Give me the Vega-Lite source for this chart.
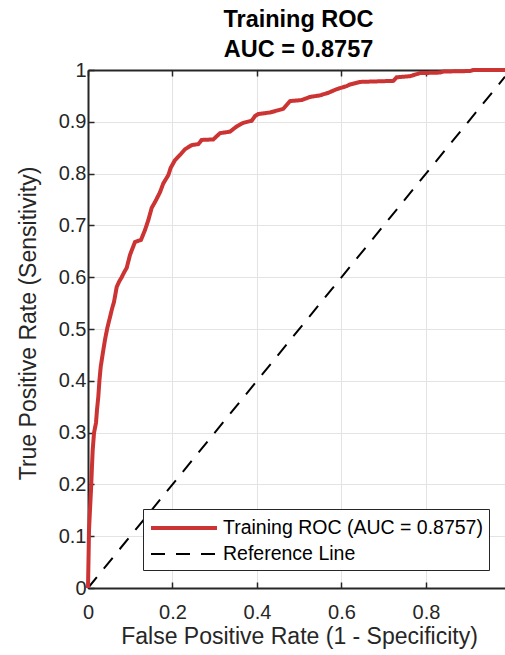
{
  "$schema": "https://vega.github.io/schema/vega-lite/v6.json",
  "autosize": {"type": "none"},
  "padding": {"left": 88, "top": 70, "right": 0, "bottom": 67},
  "width": 417,
  "height": 518,
  "background": "white",
  "title": {
    "text": ["Training ROC", "AUC = 0.8757"],
    "font": "Liberation Sans",
    "fontSize": 23.5,
    "fontWeight": "bold",
    "color": "black",
    "lineHeight": 30,
    "baseline": "alphabetic",
    "offset": -20,
    "dx": 2,
    "anchor": "middle",
    "frame": "group"
  },
  "datasets": {
    "roc": [
      {"series": "Reference Line", "fpr": 0, "tpr": 0},
      {"series": "Reference Line", "fpr": 0.987, "tpr": 0.987},
      {"series": "Training ROC (AUC = 0.8757)", "fpr": 0, "tpr": 0},
      {"series": "Training ROC (AUC = 0.8757)", "fpr": 0.0012, "tpr": 0.054},
      {"series": "Training ROC (AUC = 0.8757)", "fpr": 0.0024, "tpr": 0.112},
      {"series": "Training ROC (AUC = 0.8757)", "fpr": 0.0047, "tpr": 0.151},
      {"series": "Training ROC (AUC = 0.8757)", "fpr": 0.0071, "tpr": 0.189},
      {"series": "Training ROC (AUC = 0.8757)", "fpr": 0.0095, "tpr": 0.237},
      {"series": "Training ROC (AUC = 0.8757)", "fpr": 0.0111, "tpr": 0.266},
      {"series": "Training ROC (AUC = 0.8757)", "fpr": 0.0142, "tpr": 0.299},
      {"series": "Training ROC (AUC = 0.8757)", "fpr": 0.0189, "tpr": 0.319},
      {"series": "Training ROC (AUC = 0.8757)", "fpr": 0.0213, "tpr": 0.344},
      {"series": "Training ROC (AUC = 0.8757)", "fpr": 0.0244, "tpr": 0.369},
      {"series": "Training ROC (AUC = 0.8757)", "fpr": 0.0272, "tpr": 0.402},
      {"series": "Training ROC (AUC = 0.8757)", "fpr": 0.0301, "tpr": 0.427},
      {"series": "Training ROC (AUC = 0.8757)", "fpr": 0.0348, "tpr": 0.452},
      {"series": "Training ROC (AUC = 0.8757)", "fpr": 0.0402, "tpr": 0.479},
      {"series": "Training ROC (AUC = 0.8757)", "fpr": 0.0457, "tpr": 0.502},
      {"series": "Training ROC (AUC = 0.8757)", "fpr": 0.0521, "tpr": 0.523},
      {"series": "Training ROC (AUC = 0.8757)", "fpr": 0.0575, "tpr": 0.541},
      {"series": "Training ROC (AUC = 0.8757)", "fpr": 0.0615, "tpr": 0.552},
      {"series": "Training ROC (AUC = 0.8757)", "fpr": 0.0679, "tpr": 0.581},
      {"series": "Training ROC (AUC = 0.8757)", "fpr": 0.0734, "tpr": 0.591},
      {"series": "Training ROC (AUC = 0.8757)", "fpr": 0.0798, "tpr": 0.600},
      {"series": "Training ROC (AUC = 0.8757)", "fpr": 0.0859, "tpr": 0.610},
      {"series": "Training ROC (AUC = 0.8757)", "fpr": 0.0916, "tpr": 0.618},
      {"series": "Training ROC (AUC = 0.8757)", "fpr": 0.0994, "tpr": 0.643},
      {"series": "Training ROC (AUC = 0.8757)", "fpr": 0.1112, "tpr": 0.668},
      {"series": "Training ROC (AUC = 0.8757)", "fpr": 0.1254, "tpr": 0.672},
      {"series": "Training ROC (AUC = 0.8757)", "fpr": 0.1349, "tpr": 0.691},
      {"series": "Training ROC (AUC = 0.8757)", "fpr": 0.1427, "tpr": 0.710},
      {"series": "Training ROC (AUC = 0.8757)", "fpr": 0.1508, "tpr": 0.734},
      {"series": "Training ROC (AUC = 0.8757)", "fpr": 0.1586, "tpr": 0.745},
      {"series": "Training ROC (AUC = 0.8757)", "fpr": 0.1704, "tpr": 0.764},
      {"series": "Training ROC (AUC = 0.8757)", "fpr": 0.1782, "tpr": 0.781},
      {"series": "Training ROC (AUC = 0.8757)", "fpr": 0.1901, "tpr": 0.797},
      {"series": "Training ROC (AUC = 0.8757)", "fpr": 0.1957, "tpr": 0.811},
      {"series": "Training ROC (AUC = 0.8757)", "fpr": 0.2059, "tpr": 0.826},
      {"series": "Training ROC (AUC = 0.8757)", "fpr": 0.2178, "tpr": 0.836},
      {"series": "Training ROC (AUC = 0.8757)", "fpr": 0.2296, "tpr": 0.847},
      {"series": "Training ROC (AUC = 0.8757)", "fpr": 0.2454, "tpr": 0.855},
      {"series": "Training ROC (AUC = 0.8757)", "fpr": 0.2611, "tpr": 0.857},
      {"series": "Training ROC (AUC = 0.8757)", "fpr": 0.2691, "tpr": 0.865},
      {"series": "Training ROC (AUC = 0.8757)", "fpr": 0.2966, "tpr": 0.866},
      {"series": "Training ROC (AUC = 0.8757)", "fpr": 0.3124, "tpr": 0.878},
      {"series": "Training ROC (AUC = 0.8757)", "fpr": 0.3361, "tpr": 0.881},
      {"series": "Training ROC (AUC = 0.8757)", "fpr": 0.3519, "tpr": 0.891},
      {"series": "Training ROC (AUC = 0.8757)", "fpr": 0.3676, "tpr": 0.898},
      {"series": "Training ROC (AUC = 0.8757)", "fpr": 0.3874, "tpr": 0.902},
      {"series": "Training ROC (AUC = 0.8757)", "fpr": 0.3953, "tpr": 0.911},
      {"series": "Training ROC (AUC = 0.8757)", "fpr": 0.4031, "tpr": 0.915},
      {"series": "Training ROC (AUC = 0.8757)", "fpr": 0.4308, "tpr": 0.918},
      {"series": "Training ROC (AUC = 0.8757)", "fpr": 0.4622, "tpr": 0.925},
      {"series": "Training ROC (AUC = 0.8757)", "fpr": 0.4781, "tpr": 0.940},
      {"series": "Training ROC (AUC = 0.8757)", "fpr": 0.5058, "tpr": 0.942},
      {"series": "Training ROC (AUC = 0.8757)", "fpr": 0.5254, "tpr": 0.948},
      {"series": "Training ROC (AUC = 0.8757)", "fpr": 0.5491, "tpr": 0.951},
      {"series": "Training ROC (AUC = 0.8757)", "fpr": 0.5688, "tpr": 0.956},
      {"series": "Training ROC (AUC = 0.8757)", "fpr": 0.5886, "tpr": 0.963},
      {"series": "Training ROC (AUC = 0.8757)", "fpr": 0.6123, "tpr": 0.969},
      {"series": "Training ROC (AUC = 0.8757)", "fpr": 0.6201, "tpr": 0.972},
      {"series": "Training ROC (AUC = 0.8757)", "fpr": 0.6438, "tpr": 0.977},
      {"series": "Training ROC (AUC = 0.8757)", "fpr": 0.7226, "tpr": 0.979},
      {"series": "Training ROC (AUC = 0.8757)", "fpr": 0.7306, "tpr": 0.986},
      {"series": "Training ROC (AUC = 0.8757)", "fpr": 0.7621, "tpr": 0.988},
      {"series": "Training ROC (AUC = 0.8757)", "fpr": 0.7858, "tpr": 0.994},
      {"series": "Training ROC (AUC = 0.8757)", "fpr": 0.8331, "tpr": 0.995},
      {"series": "Training ROC (AUC = 0.8757)", "fpr": 0.8410, "tpr": 0.997},
      {"series": "Training ROC (AUC = 0.8757)", "fpr": 0.9041, "tpr": 0.998},
      {"series": "Training ROC (AUC = 0.8757)", "fpr": 0.9120, "tpr": 1.0},
      {"series": "Training ROC (AUC = 0.8757)", "fpr": 0.987, "tpr": 1.0}
    ]
  },
  "data": {"name": "roc"},
  "resolve": {"axis": {"x": "independent"}},
  "layer": [
    {
      "transform": [{"filter": "datum.series === 'Reference Line'"}],
      "mark": {"type": "line", "interpolate": "linear"},
      "encoding": {
        "x": {
          "field": "fpr", "type": "quantitative",
          "scale": {"domain": [0, 0.987], "nice": false, "zero": false},
          "axis": {"orient": "bottom", "values": [0, 0.2, 0.4, 0.6, 0.8], "format": "~g", "grid": true, "labelFlush": false, "labelPadding": 20, "title": "False Positive Rate (1 - Specificity)", "titleX": 211, "titleY": 55, "titleBaseline": "alphabetic"}
        },
        "y": {
          "field": "tpr", "type": "quantitative",
          "scale": {"domain": [0, 1], "nice": false},
          "axis": {"values": [0, 0.1, 0.2, 0.3, 0.4, 0.5, 0.6, 0.7, 0.8, 0.9, 1], "format": "~g", "grid": true, "labelFlush": false, "labelPadding": 8, "title": "True Positive Rate (Sensitivity)", "titleX": -48, "titleY": 253, "titleBaseline": "bottom"}
        },
        "color": {"field": "series", "type": "nominal", "scale": {"domain": ["Training ROC (AUC = 0.8757)", "Reference Line"], "range": ["#CC3333", "#000000"]}, "legend": {"title": null}},
        "strokeDash": {"field": "series", "type": "nominal", "scale": {"domain": ["Training ROC (AUC = 0.8757)", "Reference Line"], "range": [[1, 0], [14, 11]]}, "legend": {"title": null}},
        "strokeWidth": {"field": "series", "type": "nominal", "scale": {"domain": ["Training ROC (AUC = 0.8757)", "Reference Line"], "range": [4, 2]}, "legend": {"title": null}}
      }
    },
    {
      "transform": [{"filter": "datum.series !== 'Reference Line'"}],
      "mark": {"type": "line", "interpolate": "linear"},
      "encoding": {
        "x": {
          "field": "fpr", "type": "quantitative",
          "scale": {"domain": [0, 0.987], "nice": false, "zero": false},
          "axis": {"orient": "top", "values": [0, 0.2, 0.4, 0.6, 0.8], "labels": false, "grid": false, "title": null}
        },
        "y": {
          "field": "tpr", "type": "quantitative",
          "scale": {"domain": [0, 1], "nice": false},
          "axis": {"values": [0, 0.1, 0.2, 0.3, 0.4, 0.5, 0.6, 0.7, 0.8, 0.9, 1], "format": "~g", "grid": true, "labelFlush": false, "labelPadding": 8, "title": "True Positive Rate (Sensitivity)", "titleX": -48, "titleY": 253, "titleBaseline": "bottom"}
        },
        "color": {"field": "series", "type": "nominal", "scale": {"domain": ["Training ROC (AUC = 0.8757)", "Reference Line"], "range": ["#CC3333", "#000000"]}, "legend": {"title": null}},
        "strokeDash": {"field": "series", "type": "nominal", "scale": {"domain": ["Training ROC (AUC = 0.8757)", "Reference Line"], "range": [[1, 0], [14, 11]]}, "legend": {"title": null}},
        "strokeWidth": {"field": "series", "type": "nominal", "scale": {"domain": ["Training ROC (AUC = 0.8757)", "Reference Line"], "range": [4, 2]}, "legend": {"title": null}}
      }
    }
  ],
  "config": {
    "view": {"stroke": null},
    "axis": {
      "domainColor": "#262626", "domainWidth": 2,
      "tickColor": "#262626", "tickWidth": 1.5, "tickSize": -6,
      "labelFont": "Liberation Sans", "labelFontSize": 20, "labelColor": "#262626",
      "titleFont": "Liberation Sans", "titleFontSize": 23, "titleFontWeight": "normal", "titleColor": "#262626",
      "gridColor": "#e3e3e3", "gridWidth": 1
    },
    "legend": {
      "orient": "none", "legendX": 55, "legendY": 439,
      "strokeColor": "#262626", "fillColor": "white", "padding": 6,
      "symbolType": "M-1,0H5", "symbolSize": 484,
      "labelFont": "Liberation Sans", "labelFontSize": 19.5, "labelColor": "black",
      "labelOffset": 48, "rowPadding": 4, "labelLimit": 400
    }
  }
}
